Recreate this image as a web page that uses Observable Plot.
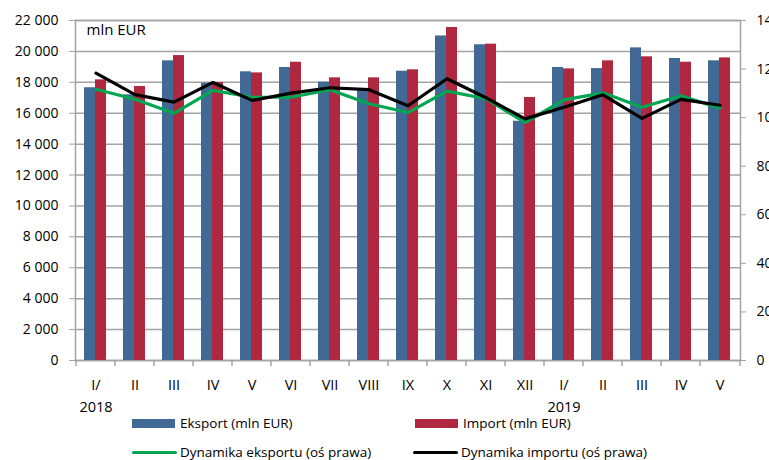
<!DOCTYPE html>
<html>
<head>
<meta charset="utf-8">
<script src="https://cdn.jsdelivr.net/npm/d3@7"></script>
<script src="https://cdn.jsdelivr.net/npm/@observablehq/plot@0.6"></script>
<style>
  body { margin: 0; background: #fff; font-family: "Open Sans", sans-serif; }
  #wrap { position: relative; width: 769px; height: 460px; overflow: hidden; }
  #wrap svg { position: absolute; left: 0; top: 0; }
  .leg { position: absolute; font-size: 13.5px; color: #000; white-space: nowrap; }
  .sw { position: absolute; }
</style>
</head>
<body>
<div id="wrap"></div>
<script>
const months = ["2018-01","2018-02","2018-03","2018-04","2018-05","2018-06","2018-07","2018-08","2018-09","2018-10","2018-11","2018-12","2019-01","2019-02","2019-03","2019-04","2019-05"];
const monthLabels = ["I/\n2018","II","III","IV","V","VI","VII","VIII","IX","X","XI","XII","I/\n2019","II","III","IV","V"];
const exportVals = [17650, 17190, 19390, 17940, 18680, 18960, 18010, 17580, 18720, 21000, 20430, 15480, 18960, 18890, 20230, 19540, 19390];
const importVals = [18160, 17730, 19730, 17990, 18610, 19300, 18290, 18290, 18810, 21550, 20470, 17020, 18870, 19390, 19650, 19300, 19580];
const exportDyn = [111.7, 107.6, 101.8, 111.2, 108.4, 108.4, 111.5, 105.7, 102.1, 110.9, 107.8, 98.0, 107.3, 110.2, 104.3, 109.0, 103.9];
const importDyn = [118.3, 109.5, 106.4, 114.5, 107.1, 110.1, 112.3, 111.5, 104.9, 116.0, 108.2, 99.5, 104.3, 109.4, 99.7, 107.5, 105.1];
const leftTicks = [0, 2000, 4000, 6000, 8000, 10000, 12000, 14000, 16000, 18000, 20000, 22000];
const rightTicks = [0, 20, 40, 60, 80, 100, 120, 140];
const seriesNames = ["Eksport (mln EUR)", "Import (mln EUR)", "Dynamika eksportu (oś prawa)", "Dynamika importu (oś prawa)"];
const colors = ["#416996", "#B0283F", "#00A651", "#000000"];

const leftMax = 22000, rightMax = 140;
const k = leftMax / rightMax; // right-axis value -> left-axis units

const rows = months.map((m, i) => ({m, exp: exportVals[i], imp: importVals[i], ed: exportDyn[i] * k, id: importDyn[i] * k}));
const fmt = d => d3.format(",")(d).replace(/,/g, " ");
const gray = "#a3a3a3";

function boundaryTicks(index, scales, values, dims) {
  const x = scales.x;
  const y0 = dims.height - dims.marginBottom;
  const g = d3.create("svg:g").attr("stroke", gray).attr("stroke-width", 1.5);
  const xs = months.map(m => x(m));
  xs.push(dims.width - dims.marginRight);
  for (const xx of xs) g.append("line").attr("x1", xx).attr("x2", xx).attr("y1", y0).attr("y2", y0 + 6);
  return g.node();
}

const plot = Plot.plot({
  width: 769,
  height: 416,
  marginLeft: 75,
  marginRight: 29,
  marginTop: 20,
  marginBottom: 56,
  style: {fontFamily: "'Open Sans', sans-serif", fontSize: "14px", color: "#000", background: "#fff"},
  x: {type: "band", domain: months, padding: 0, label: null},
  y: {domain: [0, leftMax], label: null},
  marks: [
    Plot.gridY(leftTicks, {stroke: gray, strokeOpacity: 1, strokeWidth: 1.5}),
    Plot.frame({stroke: gray, strokeWidth: 1.5}),
    Plot.barY(rows, {x: "m", y: "exp", fill: colors[0], insetLeft: 8, insetRight: 20}),
    Plot.barY(rows, {x: "m", y: "imp", fill: colors[1], insetLeft: 19, insetRight: 9}),
    Plot.line(rows, {x: "m", y: "ed", stroke: colors[2], strokeWidth: 3.2}),
    Plot.line(rows, {x: "m", y: "id", stroke: colors[3], strokeWidth: 3.2}),
    Plot.axisY(leftTicks, {anchor: "left", tickFormat: fmt, tickSize: 6, tickPadding: 11, stroke: gray, fill: "#000", label: null, fontSize: 14}),
    Plot.axisY(rightTicks.map(v => v * k), {anchor: "right", tickFormat: d => String(Math.round(d / k)), tickSize: 5, tickPadding: 11, stroke: gray, fill: "#000", label: null, fontSize: 14}),
    Plot.axisX({tickFormat: (d, i) => monthLabels[months.indexOf(d)], tickSize: 0, tickPadding: 14, lineHeight: 1.5, fill: "#000", label: null, fontSize: 14.5}),
    boundaryTicks,
    Plot.text(["mln EUR"], {frameAnchor: "top-left", dx: 11, dy: 4, fontSize: 15, fill: "#000"})
  ]
});

const wrap = document.getElementById("wrap");
wrap.appendChild(plot);

const legend = [
  {name: seriesNames[0], color: colors[0], type: "bar", x: 132, y: 423},
  {name: seriesNames[1], color: colors[1], type: "bar", x: 415, y: 423},
  {name: seriesNames[2], color: colors[2], type: "line", x: 132, y: 452},
  {name: seriesNames[3], color: colors[3], type: "line", x: 413, y: 452}
];
for (const l of legend) {
  const sw = document.createElement("div");
  sw.className = "sw";
  const h = l.type === "bar" ? 9 : 3;
  sw.style.cssText = `left:${l.x}px;top:${l.y - h / 2}px;width:${l.type === "bar" ? 43 : 45}px;height:${h}px;background:${l.color};${l.type === "line" ? "border-radius:2px;" : ""}`;
  wrap.appendChild(sw);
  const t = document.createElement("div");
  t.className = "leg";
  t.textContent = l.name;
  t.style.left = (l.x + 48) + "px";
  t.style.top = (l.y - 8) + "px";
  t.style.lineHeight = "16px";
  wrap.appendChild(t);
}
</script>
</body>
</html>
